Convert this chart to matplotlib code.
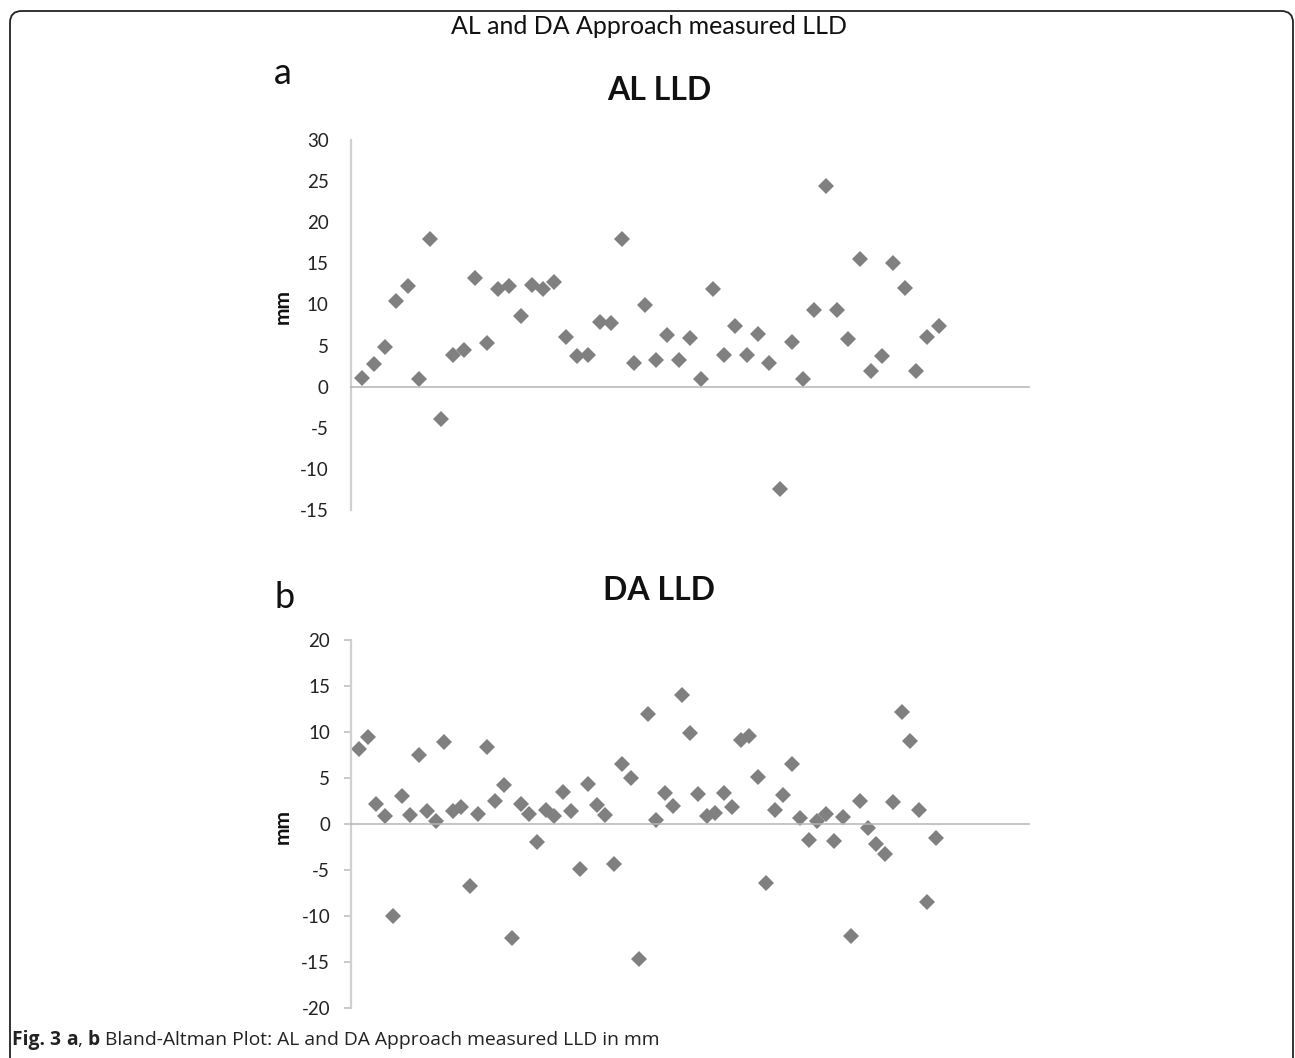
import matplotlib
matplotlib.use("Agg")
import matplotlib.pyplot as plt
from matplotlib.patches import FancyBboxPatch

# ---- data ----
al_lld = [1.0, 2.7, 4.8, 10.4, 12.2, 0.9, 17.9, -3.9, 3.9, 4.5,
          13.2, 5.3, 11.9, 12.2, 8.6, 12.4, 11.9, 12.7, 6.1, 3.7,
          3.9, 7.9, 7.7, 17.9, 2.9, 9.9, 3.3, 6.3, 3.3, 5.9,
          0.9, 11.9, 3.9, 7.4, 3.9, 6.4, 2.9, -12.5, 5.4, 0.9,
          9.3, 24.4, 9.3, 5.8, 15.5, 1.9, 3.7, 15.1, 12.0, 1.9,
          6.1, 7.4]
da_lld = [8.2, 9.5, 2.2, 0.9, -10.0, 3.0, 1.0, 7.5, 1.4, 0.3,
          8.9, 1.4, 1.8, -6.7, 1.1, 8.4, 2.5, 4.2, -12.4, 2.2,
          1.1, -2.0, 1.5, 0.9, 3.5, 1.4, -4.9, 4.4, 2.1, 1.0,
          -4.4, 6.5, 5.0, -14.7, 12.0, 0.4, 3.4, 2.0, 14.0, 9.9,
          3.3, 0.9, 1.2, 3.4, 1.9, 9.1, 9.6, 5.1, -6.4, 1.5,
          3.2, 6.5, 0.7, -1.7, 0.3, 1.1, -1.9, 0.8, -12.2, 2.5,
          -0.4, -2.2, -3.3, 2.4, 12.2, 9.0, 1.5, -8.5, -1.5]
al_yticks = [30, 25, 20, 15, 10, 5, 0, -5, -10, -15]
da_yticks = [20, 15, 10, 5, 0, -5, -10, -15, -20]

main_title = "AL and DA Approach measured LLD"
caption_parts = [("Fig. 3 ", "bold"), ("a", "bold"), (", ", "normal"),
                 ("b", "bold"), (" Bland-Altman Plot: AL and DA Approach measured LLD in mm", "normal")]

W, H = 1295, 1058
fig = plt.figure(figsize=(W / 100, H / 100), dpi=100)
fig.patch.set_facecolor("white")

FONT = ["Lato", "DejaVu Sans"]
CAPFONT = ["Open Sans", "DejaVu Sans"]

# border box (open at bottom)
box = FancyBboxPatch((10 / W, -0.05), (1293 - 10) / W, (1058 - 11) / H + 0.05,
                     boxstyle="round,pad=0,rounding_size=0.009",
                     transform=fig.transFigure, fill=False, edgecolor="#222222",
                     linewidth=1.3, mutation_aspect=W / H)
fig.patches.append(box)


def make_axes(rect, data, xmax, ylim, yticks, ticklen, pad):
    ax = fig.add_axes(rect)
    xs = list(range(1, len(data) + 1))
    ax.plot(xs, data, linestyle="none", marker="D", markersize=8.3,
            color="#808080", markeredgewidth=0)
    ax.set_xlim(0, xmax)
    ax.set_ylim(*ylim)
    ax.set_yticks(yticks)
    ax.set_yticklabels([str(t) for t in yticks], fontfamily=FONT, fontsize=13.5, color="#222222")
    ax.set_xticks([])
    for s in ("top", "right"):
        ax.spines[s].set_visible(False)
    ax.spines["left"].set_color("#d0d0d0")
    ax.spines["left"].set_linewidth(1.6)
    ax.spines["bottom"].set_position(("data", 0))
    ax.spines["bottom"].set_color("#b4b4b4")
    ax.spines["bottom"].set_linewidth(1.1)
    ax.tick_params(axis="y", length=ticklen, width=1.2, color="#c0c0c0", pad=pad, direction="out")
    ax.set_facecolor("none")
    return ax


ax1 = make_axes([351 / W, 1 - 510 / H, (1029 - 351) / W, (510 - 140) / H],
                al_lld, 60, (-15, 30), al_yticks, 0, 16)
ax2 = make_axes([351 / W, 1 - 1008 / H, (1029 - 351) / W, (1008 - 640) / H],
                da_lld, 80, (-20, 20), da_yticks, 5, 10)

fig.text(649 / W, 1 - 27 / H, main_title, ha="center", va="center",
         fontfamily=FONT, fontsize=18, color="#111111")
fig.text(283 / W, 1 - 73 / H, "a", ha="center", va="center",
         fontfamily=FONT, fontsize=26, color="#111111")
fig.text(659 / W, 1 - 91 / H, "AL LLD", ha="center", va="center",
         fontfamily=FONT, fontsize=23, fontweight="bold", color="#111111")
fig.text(285 / W, 1 - 598 / H, "b", ha="center", va="center",
         fontfamily=FONT, fontsize=26, color="#111111")
fig.text(659 / W, 1 - 590 / H, "DA LLD", ha="center", va="center",
         fontfamily=FONT, fontsize=23, fontweight="bold", color="#111111")
for yc in (306, 826):
    fig.text(283 / W, 1 - yc / H, "mm", ha="center", va="center", rotation=90,
             fontfamily=FONT, fontsize=15, fontweight="bold", color="#111111")

# caption with mixed weights
renderer = fig.canvas.get_renderer()
xpos = 12 / W
for txt, wt in caption_parts:
    t = fig.text(xpos, 1 - 1040 / H, txt, ha="left", va="center",
                 fontfamily=CAPFONT, fontsize=13.9, fontweight=wt, color="#222222")
    bb = t.get_window_extent(renderer=renderer)
    xpos += bb.width / W

fig.savefig("out.png", dpi=100, facecolor="white")
